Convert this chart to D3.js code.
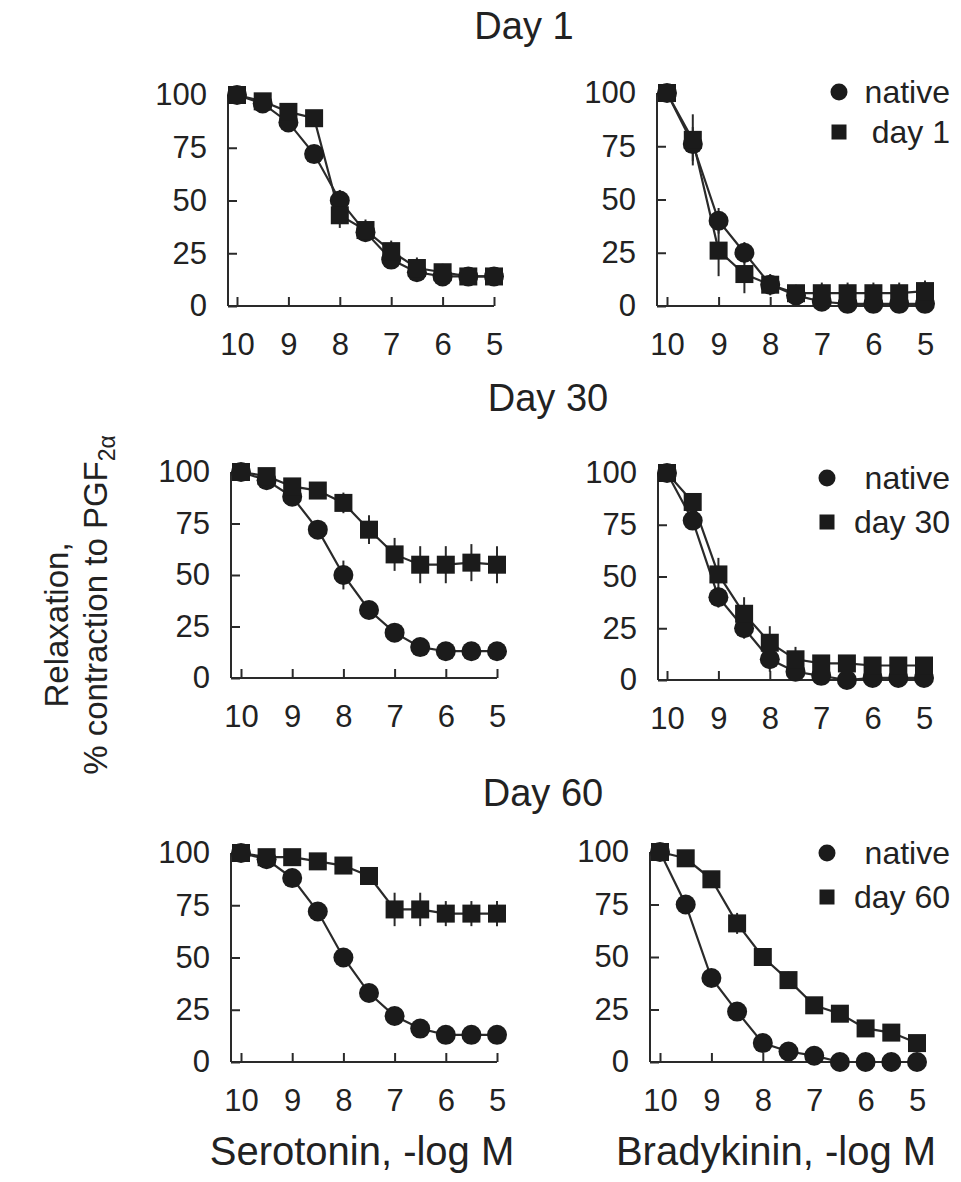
<!DOCTYPE html>
<html>
<head>
<meta charset="utf-8">
<script src="https://cdn.jsdelivr.net/npm/d3@7"></script>
<style>
  html, body { margin: 0; padding: 0; background: #fff; }
  svg { display: block; }
  text { font-family: "Liberation Sans", Arial, Helvetica, sans-serif; fill: #222; }
</style>
</head>
<body>
<svg id="chart" width="961" height="1182"></svg>
<script>
// ---------------- DATA ----------------
const conc = [10, 9.5, 9, 8.5, 8, 7.5, 7, 6.5, 6, 5.5, 5];   // -log M
const xTicks = [10, 9, 8, 7, 6, 5];
const yTicks = [0, 25, 50, 75, 100];
const dayTitles = ["Day 1", "Day 30", "Day 60"];
const legendNames = [["native", "day 1"], ["native", "day 30"], ["native", "day 60"]];
const xLabels = ["Serotonin, -log M", "Bradykinin, -log M"];

// Serotonin
const seroD1Native   = [100, 96, 87, 72, 50, 35, 22, 16, 14, 14, 14];
const seroD1Day      = [100, 97, 92, 89, 43, 36, 26, 18, 16, 14, 14];
const seroD30Native  = [100, 96, 88, 72, 50, 33, 22, 15, 13, 13, 13];
const seroD30Day     = [100, 98, 93, 91, 85, 72, 60, 55, 55, 56, 55];
const seroD60Native  = [100, 97, 88, 72, 50, 33, 22, 16, 13, 13, 13];
const seroD60Day     = [100, 98, 98, 96, 94, 89, 73, 73, 71, 71, 71];
// Bradykinin
const bradyD1Native  = [100, 76, 40, 25, 10, 5, 2, 1, 1, 1, 1];
const bradyD1Day     = [100, 78, 26, 15, 10, 6, 6, 6, 6, 6, 7];
const bradyD30Native = [100, 77, 40, 25, 10, 4, 2, 0, 1, 1, 1];
const bradyD30Day    = [100, 86, 51, 32, 18, 10, 8, 8, 7, 7, 7];
const bradyD60Native = [100, 75, 40, 24, 9, 5, 3, 0, 0, 0, 0];
const bradyD60Day    = [100, 97, 87, 66, 50, 39, 27, 23, 16, 14, 9];

// SEM
const seroD1NativeErr  = [2, 3, 4, 4, 5, 4, 4, 3, 3, 2, 2];
const seroD1DayErr     = [2, 3, 4, 3, 6, 5, 5, 5, 4, 3, 3];
const seroD30NativeErr = [2, 3, 4, 4, 7, 4, 3, 2, 2, 2, 2];
const seroD30DayErr    = [2, 3, 4, 4, 5, 7, 8, 9, 9, 9, 9];
const seroD60NativeErr = [2, 2, 3, 3, 4, 3, 3, 2, 2, 2, 2];
const seroD60DayErr    = [2, 2, 2, 2, 2, 3, 8, 8, 6, 6, 6];
const bradyD1NativeErr = [2, 8, 6, 5, 4, 3, 3, 3, 3, 3, 3];
const bradyD1DayErr    = [2, 12, 12, 9, 5, 4, 5, 5, 5, 5, 5];
const bradyD30NativeErr= [2, 4, 5, 5, 6, 3, 3, 3, 3, 3, 3];
const bradyD30DayErr   = [2, 4, 8, 8, 8, 6, 4, 4, 4, 4, 4];
const bradyD60NativeErr= [2, 3, 4, 3, 3, 2, 2, 2, 2, 2, 2];
const bradyD60DayErr   = [2, 2, 3, 5, 4, 4, 3, 3, 3, 3, 3];

// ---------------- LAYOUT ----------------
const panels = [
  { row: 0, col: 0, axisX: 228, x0: 237, x1: 494, yTop: 95,  yBot: 306, native: seroD1Native,  nErr: seroD1NativeErr,  day: seroD1Day,  dErr: seroD1DayErr },
  { row: 0, col: 1, axisX: 657, x0: 667, x1: 925, yTop: 93,  yBot: 306, native: bradyD1Native, nErr: bradyD1NativeErr, day: bradyD1Day, dErr: bradyD1DayErr,
    legend: { x: 839, y1: 92, y2: 132, textX: 950 } },
  { row: 1, col: 0, axisX: 231, x0: 241, x1: 497, yTop: 472, yBot: 678, native: seroD30Native, nErr: seroD30NativeErr, day: seroD30Day, dErr: seroD30DayErr },
  { row: 1, col: 1, axisX: 658, x0: 667, x1: 924, yTop: 473, yBot: 680, native: bradyD30Native, nErr: bradyD30NativeErr, day: bradyD30Day, dErr: bradyD30DayErr,
    legend: { x: 827, y1: 478, y2: 522, textX: 950 } },
  { row: 2, col: 0, axisX: 231, x0: 241, x1: 497, yTop: 853, yBot: 1062, native: seroD60Native, nErr: seroD60NativeErr, day: seroD60Day, dErr: seroD60DayErr },
  { row: 2, col: 1, axisX: 650, x0: 660, x1: 917, yTop: 852, yBot: 1062, native: bradyD60Native, nErr: bradyD60NativeErr, day: bradyD60Day, dErr: bradyD60DayErr,
    legend: { x: 827, y1: 853, y2: 897, textX: 950 } }
];
const titlePos = [{ x: 524, y: 39 }, { x: 548, y: 411 }, { x: 543, y: 806 }];

const INK = "#1b1b1b";
const LINE = "#2a2a2a";
const svg = d3.select("#chart");

// titles
svg.selectAll("text.title").data(dayTitles).join("text")
  .attr("class", "title")
  .attr("x", (d, i) => titlePos[i].x).attr("y", (d, i) => titlePos[i].y)
  .attr("text-anchor", "middle").attr("font-size", 38).text(d => d);

panels.forEach(p => {
  const x = d3.scaleLinear().domain([10, 5]).range([p.x0, p.x1]);
  const y = d3.scaleLinear().domain([0, 100]).range([p.yBot, p.yTop]);
  const g = svg.append("g");

  // axis lines
  g.append("line").attr("x1", p.axisX).attr("x2", p.x1).attr("y1", p.yBot).attr("y2", p.yBot)
    .attr("stroke", LINE).attr("stroke-width", 2);
  g.append("line").attr("x1", p.axisX).attr("x2", p.axisX).attr("y1", p.yBot).attr("y2", p.yTop)
    .attr("stroke", LINE).attr("stroke-width", 2);

  const yAxis = d3.axisLeft(y).tickValues(yTicks).tickFormat(d3.format("d"))
    .tickSizeInner(-9).tickSizeOuter(0).tickPadding(21);
  const ya = g.append("g").attr("transform", `translate(${p.axisX},0)`).call(yAxis);
  ya.select(".domain").remove();
  ya.selectAll("line").attr("stroke", LINE).attr("stroke-width", 2);
  ya.selectAll("text").attr("font-size", 31).attr("fill", "#222")
    .style("font-family", '"Liberation Sans", Arial, sans-serif');

  const xAxis = d3.axisBottom(x).tickValues(xTicks).tickFormat(d3.format("d"))
    .tickSizeInner(-9).tickSizeOuter(0).tickPadding(27);
  const xa = g.append("g").attr("transform", `translate(0,${p.yBot})`).call(xAxis);
  xa.select(".domain").remove();
  xa.selectAll("line").attr("stroke", LINE).attr("stroke-width", 2);
  xa.selectAll("text").attr("font-size", 31).attr("fill", "#222")
    .style("font-family", '"Liberation Sans", Arial, sans-serif');

  const line = d3.line().x((d, i) => x(conc[i])).y(d => y(d));

  const series = [
    { vals: p.native, err: p.nErr, shape: "circle" },
    { vals: p.day, err: p.dErr, shape: "square" }
  ];
  series.forEach(s => {
    g.append("path").datum(s.vals).attr("d", line)
      .attr("fill", "none").attr("stroke", LINE).attr("stroke-width", 2.2);
  });
  series.forEach(s => {
    g.selectAll(null).data(s.vals).join("line")
      .attr("x1", (d, i) => x(conc[i])).attr("x2", (d, i) => x(conc[i]))
      .attr("y1", (d, i) => y(d + s.err[i])).attr("y2", (d, i) => y(d - s.err[i]))
      .attr("stroke", LINE).attr("stroke-width", 2);
  });
  series.forEach(s => {
    if (s.shape === "circle") {
      g.selectAll(null).data(s.vals).join("circle")
        .attr("cx", (d, i) => x(conc[i])).attr("cy", d => y(d)).attr("r", 10)
        .attr("fill", INK);
    } else {
      g.selectAll(null).data(s.vals).join("rect")
        .attr("x", (d, i) => x(conc[i]) - 9).attr("y", d => y(d) - 9)
        .attr("width", 18).attr("height", 18).attr("fill", INK);
    }
  });

  if (p.legend) {
    const L = p.legend;
    const names = legendNames[p.row];
    g.append("circle").attr("cx", L.x).attr("cy", L.y1).attr("r", 8.5).attr("fill", INK);
    g.append("rect").attr("x", L.x - 7.5).attr("y", L.y2 - 7.5).attr("width", 15).attr("height", 15).attr("fill", INK);
    g.append("text").attr("x", L.textX).attr("y", L.y1 + 11).attr("text-anchor", "end")
      .attr("font-size", 32).text(names[0]);
    g.append("text").attr("x", L.textX).attr("y", L.y2 + 11).attr("text-anchor", "end")
      .attr("font-size", 32).text(names[1]);
  }
});

// x labels
const xLabelPos = [{ x: 362, y: 1165 }, { x: 776, y: 1165 }];
svg.selectAll("text.xlab").data(xLabels).join("text")
  .attr("class", "xlab")
  .attr("x", (d, i) => xLabelPos[i].x).attr("y", (d, i) => xLabelPos[i].y)
  .attr("text-anchor", "middle").attr("font-size", 40).text(d => d);

// y labels
svg.append("text")
  .attr("transform", "translate(68,625) rotate(-90)")
  .attr("text-anchor", "middle").attr("font-size", 33).text("Relaxation,");
const yl2 = svg.append("text")
  .attr("transform", "translate(107,605) rotate(-90)")
  .attr("text-anchor", "middle").attr("font-size", 33);
yl2.append("tspan").text("% contraction to PGF");
yl2.append("tspan").attr("font-size", 23).attr("dy", 8).text("2α");
</script>
</body>
</html>
